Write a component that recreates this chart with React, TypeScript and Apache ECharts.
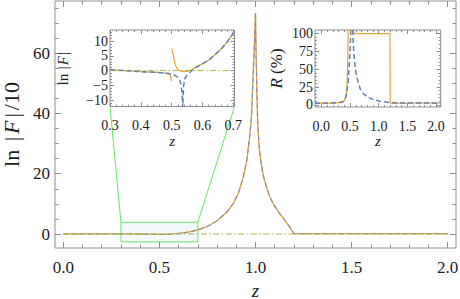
import React, { useEffect, useRef } from 'react';
import * as echarts from 'echarts';

// ---------- main plot data: ln|F|/10 vs z ----------
const mainZ = [0, 0.1, 0.2, 0.3, 0.4, 0.45, 0.5, 0.55, 0.6, 0.65, 0.7, 0.75, 0.8, 0.85, 0.885, 0.91, 0.937, 0.955, 0.971, 0.98, 0.989, 0.995, 1.0, 1.003, 1.008, 1.012, 1.02, 1.03, 1.042, 1.06, 1.075, 1.093, 1.12, 1.145, 1.17, 1.19, 1.2, 1.6, 2.0];
const mainOrange = [0.05, 0.05, 0.04, 0.02, -0.03, -0.07, -0.15, -0.05, 0.22, 0.6, 1.35, 2.5, 4.4, 7.2, 10.2, 13.3, 19, 24.5, 33, 40, 55, 64, 73.4, 60, 45, 36, 28, 23, 19, 15, 12.3, 10, 7.3, 5.2, 3.0, 1.1, 0.15, 0.15, 0.15];
const mainBlue = [0.05, 0.05, 0.04, 0.02, -0.03, -0.07, -0.15, -0.11, 0.22, 0.6, 1.35, 2.5, 4.4, 7.2, 10.2, 13.3, 19, 24.5, 33, 40, 55, 64, 73.4, 60, 45, 36, 28, 23, 19, 15, 12.3, 10, 7.3, 5.2, 3.0, 1.1, 0.15, 0.15, 0.15];
const mainGreenZ = [0, 2];
const mainGreen = [0, 0];
const zoomBoxZ = [0.3, 0.7];
const zoomBoxV = [-2.6, 3.9];

// ---------- inset 1: ln|F| vs z (0.3 .. 0.7) ----------
const in1OrangeLeftZ = [0.3, 0.35, 0.392, 0.43, 0.468, 0.485, 0.495, 0.5];
const in1OrangeLeft = [0.25, 0, -0.3, -0.5, -0.7, -0.95, -1.3, -3.6];
const in1OrangeRightZ = [0.501, 0.504, 0.508, 0.511, 0.516, 0.522, 0.53, 0.54, 0.55, 0.565, 0.58, 0.598, 0.615, 0.63, 0.645, 0.663, 0.68, 0.7];
const in1OrangeRight = [7.5, 6, 3.8, 2.2, 1, 0.2, -0.2, -0.35, -0.3, 0.3, 1.2, 2.2, 3.2, 4.4, 5.8, 7.6, 9.7, 12.7];
const in1BlueZ = [0.3, 0.35, 0.392, 0.43, 0.468, 0.495, 0.511, 0.52, 0.527, 0.531, 0.534, 0.536, 0.539, 0.543, 0.55, 0.555, 0.571, 0.58, 0.598, 0.615, 0.63, 0.645, 0.663, 0.68, 0.7];
const in1Blue = [0.25, 0, -0.3, -0.5, -0.7, -1.1, -1.6, -2.3, -3.3, -5, -8, -12.5, -5, -2.6, -1.6, -1.1, 0.6, 1.2, 2.2, 3.2, 4.4, 5.8, 7.6, 9.7, 12.7];
const in1GreenZ = [0.3, 0.7];
const in1Green = [0, 0];

// ---------- inset 2: R (%) vs z ----------
const in2OrangeZ = [-0.11, 0.2, 0.35, 0.4, 0.42, 0.44, 0.45, 0.46, 0.47, 0.55, 0.56, 0.58, 1.195, 1.2, 1.5, 2.08];
const in2Orange = [2.3, 2.5, 3.5, 5.5, 9, 18, 30, 60, 112, 112, 102, 100, 100, 2.5, 2.4, 2.4];
const in2BlueZ = [-0.11, 0.2, 0.35, 0.4, 0.44, 0.47, 0.49, 0.51, 0.52, 0.535, 0.545, 0.555, 0.57, 0.59, 0.615, 0.64, 0.68, 0.73, 0.8, 0.876, 0.95, 1.05, 1.2, 1.3, 2.08];
const in2Blue = [2.3, 2.5, 3.5, 5.5, 15, 35, 60, 95, 120, 135, 108, 88, 70, 52, 40, 32.5, 22, 16, 11, 8.4, 6.5, 4.7, 3.2, 2.6, 2.4];

// ---------- ticks ----------
const mainXTicks = [0, 0.5, 1, 1.5, 2];
const mainXMinor = [0.1, 0.2, 0.3, 0.4, 0.6, 0.7, 0.8, 0.9, 1.1, 1.2, 1.3, 1.4, 1.6, 1.7, 1.8, 1.9];
const mainYTicks = [0, 20, 40, 60];
const mainYMinor = [5, 10, 15, 25, 30, 35, 45, 50, 55, 65, 70, 75];
const in1XTicks = [0.3, 0.4, 0.5, 0.6, 0.7];
const in1XMinor = [0.32, 0.34, 0.36, 0.38, 0.42, 0.44, 0.46, 0.48, 0.52, 0.54, 0.56, 0.58, 0.62, 0.64, 0.66, 0.68];
const in1YTicks = [-10, -5, 0, 5, 10];
const in1YMinor = [-12, -11, -9, -8, -7, -6, -4, -3, -2, -1, 1, 2, 3, 4, 6, 7, 8, 9, 11, 12, 13];
const in2XTicks = [0, 0.5, 1, 1.5, 2];
const in2XMinor = [0.1, 0.2, 0.3, 0.4, 0.6, 0.7, 0.8, 0.9, 1.1, 1.2, 1.3, 1.4, 1.6, 1.7, 1.8, 1.9];
const in2YTicks = [0, 25, 50, 75, 100];
const in2YMinor = [5, 10, 15, 20, 30, 35, 40, 45, 55, 60, 65, 70, 80, 85, 90, 95];

const FRAME = '#8e8e8e';
const TEXT = '#1a1a1a';
const SERIF = 'Liberation Serif, DejaVu Serif, serif';
const ORANGE = '#E6A23C';
const BLUE = '#5E81B5';
const BLUE_MAIN = 'rgba(110,135,180,0.75)';
const GREEN = '#A6B83A';
const BOXGREEN = '#62e862';

const zip = (xs: number[], ys: number[]) => xs.map((x, i) => [x, ys[i]]);
const fmtMinus = (v: number, d: number) => {
  const s = Math.abs(v).toFixed(d);
  return v < 0 ? '\u2212' + s : s;
};

function makeAxes(
  dim: 'x' | 'y', gridIndex: number, min: number, max: number,
  majors: number[], minors: number[], majorLen: number, minorLen: number,
  z: number, label: any, name: any
) {
  const sides = dim === 'x' ? ['bottom', 'top'] : ['left', 'right'];
  const list: any[] = [];
  sides.forEach((pos, si) => {
    [majors, minors].forEach((vals, ki) => {
      const isMain = si === 0 && ki === 0;
      list.push({
        type: 'value', gridIndex, min, max, position: pos, z,
        axisLine: { show: false, onZero: false },
        splitLine: { show: false },
        axisTick: { show: true, inside: true, length: ki === 0 ? majorLen : minorLen, customValues: vals, lineStyle: { color: FRAME, width: 1 } },
        axisLabel: isMain ? { show: true, customValues: majors, ...label } : { show: false },
        ...(isMain && name ? name : {}),
      });
    });
  });
  return list;
}

const MAIN_X = [-0.043, 2.043];
const MAIN_Y = [-4.64, 77.3];
const IN1_X = [0.3, 0.704];
const IN1_Y = [-12.2, 13.8];
const IN2_X = [-0.11, 2.08];
const IN2_Y = [-3, 105];

export default function App() {
  const ref = useRef<HTMLDivElement>(null);
  useEffect(() => {
    if (!ref.current) return;
    const chart = echarts.init(ref.current, undefined, { renderer: 'svg' });
    const mainLabel = { fontFamily: SERIF, fontSize: 17, color: TEXT };
    const insetLabel = { fontFamily: SERIF, fontSize: 14, color: TEXT };
    const xAxes = [
      ...makeAxes('x', 0, MAIN_X[0], MAIN_X[1], mainXTicks, mainXMinor, 6, 3.5, 1,
        { ...mainLabel, margin: 11, formatter: (v: number) => v.toFixed(1) },
        { name: 'z', nameLocation: 'middle', nameGap: 25, nameTextStyle: { fontFamily: SERIF, fontSize: 19, lineHeight: 19, fontStyle: 'italic', color: TEXT } }),
      ...makeAxes('x', 1, IN1_X[0], IN1_X[1], in1XTicks, in1XMinor, 4, 2, 12,
        { ...insetLabel, margin: 12, formatter: (v: number) => v.toFixed(1) },
        { name: 'z', nameLocation: 'middle', nameGap: 26, nameTextStyle: { fontFamily: SERIF, fontSize: 15, fontStyle: 'italic', color: TEXT } }),
      ...makeAxes('x', 2, IN2_X[0], IN2_X[1], in2XTicks, in2XMinor, 4, 2, 12,
        { ...insetLabel, margin: 12, formatter: (v: number) => v.toFixed(1) },
        { name: 'z', nameLocation: 'middle', nameGap: 26, nameTextStyle: { fontFamily: SERIF, fontSize: 15, fontStyle: 'italic', color: TEXT } }),
    ];
    const yAxes = [
      ...makeAxes('y', 0, MAIN_Y[0], MAIN_Y[1], mainYTicks, mainYMinor, 6, 3.5, 1,
        { ...mainLabel, margin: 5, formatter: (v: number) => String(v) },
        {
          name: '{a|ln }{b||}{f|F}{b||}{a|/10}', nameLocation: 'middle', nameGap: 32,
          nameTextStyle: {
            color: TEXT, fontFamily: SERIF, fontSize: 22,
            rich: {
              a: { fontFamily: SERIF, fontSize: 22, color: TEXT },
              b: { fontFamily: SERIF, fontSize: 22, color: TEXT, padding: [0, 3] },
              f: { fontFamily: SERIF, fontSize: 22, fontStyle: 'italic', color: TEXT },
            },
          },
        }),
      ...makeAxes('y', 1, IN1_Y[0], IN1_Y[1], in1YTicks, in1YMinor, 4, 2, 12,
        { ...insetLabel, margin: 2, formatter: (v: number) => fmtMinus(v, 0) },
        {
          name: '{a|ln }{b||}{f|F}{b||}', nameLocation: 'middle', nameGap: 40,
          nameTextStyle: {
            color: TEXT, fontFamily: SERIF, fontSize: 15,
            rich: {
              a: { fontFamily: SERIF, fontSize: 15, color: TEXT },
              b: { fontFamily: SERIF, fontSize: 15, color: TEXT, padding: [0, 1] },
              f: { fontFamily: SERIF, fontSize: 15, fontStyle: 'italic', color: TEXT },
            },
          },
        }),
      ...makeAxes('y', 2, IN2_Y[0], IN2_Y[1], in2YTicks, in2YMinor, 4, 2, 12,
        { ...insetLabel, margin: 2, formatter: (v: number) => String(v) },
        {
          name: '{f|R}{a| (%)}', nameLocation: 'middle', nameGap: 30,
          nameTextStyle: {
            color: TEXT, fontFamily: SERIF, fontSize: 17,
            rich: {
              a: { fontFamily: SERIF, fontSize: 17, color: TEXT },
              f: { fontFamily: SERIF, fontSize: 17, fontStyle: 'italic', color: TEXT },
            },
          },
        }),
    ];
    const line = (xi: number, data: number[][], color: string, width: number, type: any, z: number) => ({
      type: 'line', xAxisIndex: xi, yAxisIndex: xi, data, showSymbol: false, symbol: 'none',
      lineStyle: { color, width, type }, z, silent: true,
    });
    const DASH = [5, 3];
    const DASHDOT = [6, 2.5, 1.5, 2.5];
    const gridBase = { show: true, borderColor: FRAME, borderWidth: 1, containLabel: false, outerBoundsMode: 'none' };
    chart.setOption({
      animation: false,
      textStyle: { fontFamily: SERIF, color: TEXT },
      grid: [
        { ...gridBase, left: 55, right: 4, top: 1, bottom: 51, backgroundColor: 'transparent', z: 0 },
        { ...gridBase, left: 110, top: 30, width: 124.5, height: 76.5, backgroundColor: '#ffffff', z: 10 },
        { ...gridBase, left: 315, top: 30, width: 125.7, height: 77, backgroundColor: '#ffffff', z: 10 },
      ],
      xAxis: xAxes,
      yAxis: yAxes,
      series: [
        line(0, zip(mainZ, mainOrange), ORANGE, 1.3, 'solid', 3),
        line(0, zip(mainZ, mainBlue), BLUE_MAIN, 1.2, DASH, 3),
        line(0, zip(mainGreenZ, mainGreen), GREEN, 1, DASHDOT, 3),
        line(4, zip(in1OrangeLeftZ, in1OrangeLeft), ORANGE, 1.2, 'solid', 11),
        line(4, zip(in1OrangeRightZ, in1OrangeRight), ORANGE, 1.2, 'solid', 11),
        line(4, zip(in1BlueZ, in1Blue), BLUE, 1.5, DASH, 11),
        line(4, zip(in1GreenZ, in1Green), GREEN, 1, DASHDOT, 11),
        line(8, zip(in2OrangeZ, in2Orange), ORANGE, 1.2, 'solid', 11),
        line(8, zip(in2BlueZ, in2Blue), BLUE, 1.5, DASH, 11),
      ],
    });
    const p = (xi: number, v: number[]) => chart.convertToPixel({ xAxisIndex: xi, yAxisIndex: xi }, v) as number[];
    const bBL = p(0, [zoomBoxZ[0], zoomBoxV[0]]);
    const bTR = p(0, [zoomBoxZ[1], zoomBoxV[1]]);
    const iBL = p(4, [IN1_X[0], IN1_Y[0]]);
    const iBR = p(4, [IN1_X[1], IN1_Y[0]]);
    chart.setOption({
      graphic: [
        { type: 'rect', z: 1, silent: true, shape: { x: bBL[0], y: bTR[1], width: bTR[0] - bBL[0], height: bBL[1] - bTR[1] }, style: { fill: '#f3f8fd', stroke: BOXGREEN, lineWidth: 1 } },
        { type: 'line', z: 5, silent: true, shape: { x1: bBL[0], y1: bTR[1], x2: iBL[0], y2: iBL[1] }, style: { stroke: BOXGREEN, lineWidth: 1 } },
        { type: 'line', z: 5, silent: true, shape: { x1: bTR[0], y1: bTR[1], x2: iBR[0], y2: iBR[1] }, style: { stroke: BOXGREEN, lineWidth: 1 } },
      ],
    });
    return () => chart.dispose();
  }, []);
  return <div ref={ref} style={{ position: 'absolute', left: 0, top: 0, width: 460, height: 299 }} />;
}
